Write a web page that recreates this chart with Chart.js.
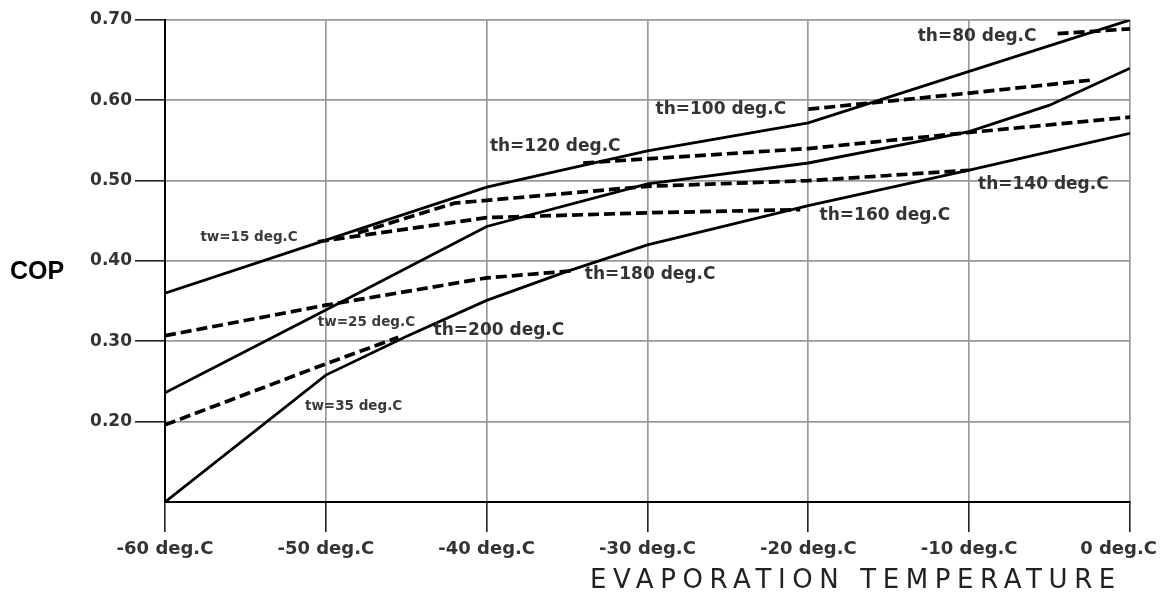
<!DOCTYPE html>
<html>
<head>
<meta charset="utf-8">
<script src="https://cdn.jsdelivr.net/npm/chart.js@4.4.0/dist/chart.umd.min.js"></script>
<style>
  html, body { margin: 0; padding: 0; background: #fff; }
</style>
</head>
<body>
<canvas id="myChart" width="1163" height="600"></canvas>
<script>
// evaporation temperature (deg.C) -> COP, solid curves (cooling water temp tw)
const tw15Temp = [-60, -50, -40, -30, -20, -10, 0];
const tw15Cop  = [0.360, 0.426, 0.492, 0.537, 0.572, 0.636, 0.700];
const tw25Temp = [-60, -50, -40, -30, -20, -10, -5, 0];
const tw25Cop  = [0.236, 0.339, 0.443, 0.496, 0.522, 0.561, 0.594, 0.640];
const tw35Temp = [-60, -50, -45, -40, -35, -30, -20, -10, 0];
const tw35Cop  = [0.100, 0.258, 0.306, 0.351, 0.387, 0.420, 0.469, 0.513, 0.559];

// dashed curves (heating temp th)
const th80Temp  = [-4.5, 0];
const th80Cop   = [0.683, 0.689];
const th100Temp = [-20, -10, -2.5];
const th100Cop  = [0.589, 0.609, 0.625];
const th120Temp = [-34, -20, -10, 0];
const th120Cop  = [0.522, 0.540, 0.560, 0.579];
const th140Temp = [-48, -42, -30, -20, -10];
const th140Cop  = [0.435, 0.472, 0.493, 0.500, 0.513];
const th160Temp = [-50.5, -40, -30, -20.5];
const th160Cop  = [0.424, 0.454, 0.460, 0.464];
const th180Temp = [-60, -50, -40, -34.5];
const th180Cop  = [0.307, 0.345, 0.379, 0.388];
const th200Temp = [-60, -50, -45.5];
const th200Cop  = [0.196, 0.272, 0.305];

// axis ticks
const xTicks = [-60, -50, -40, -30, -20, -10, 0];
const yTicks = [0.10, 0.20, 0.30, 0.40, 0.50, 0.60, 0.70];

// curve labels (anchored in data units)
const noteText = ['th=80 deg.C', 'th=100 deg.C', 'th=120 deg.C', 'th=140 deg.C', 'th=160 deg.C',
                  'th=180 deg.C', 'th=200 deg.C', 'tw=15 deg.C', 'tw=25 deg.C', 'tw=35 deg.C'];
const noteTemp = [-13.2, -29.5, -39.8, -9.45, -19.3, -33.9, -43.3, -57.8, -50.5, -51.3];
const noteCop  = [0.679, 0.588, 0.542, 0.495, 0.457, 0.383, 0.314, 0.429, 0.324, 0.219];

function pts(xs, ys) {
  return xs.map((x, i) => ({ x: x, y: ys[i] }));
}

function solid(label, xs, ys) {
  return { label, data: pts(xs, ys), borderColor: '#000', borderWidth: 2.8,
           pointRadius: 0, tension: 0, fill: false };
}
function dashed(label, xs, ys) {
  return { label, data: pts(xs, ys), borderColor: '#000', borderWidth: 3.7,
           borderDash: [11, 5], borderCapStyle: 'butt',
           pointRadius: 0, tension: 0, fill: false };
}

const tickFont = { family: 'DejaVu Sans', size: 17, weight: 'bold' };

// texts: curve labels, last x tick, axis titles
const textPlugin = {
  id: 'textos',
  afterDatasetsDraw(chart) {
    const c = chart.ctx;
    const sx = chart.scales.x, sy = chart.scales.y;
    c.save();
    c.textBaseline = 'middle';
    c.textAlign = 'left';
    noteText.forEach((t, i) => {
      const small = t.startsWith('tw');
      c.font = small ? 'bold 13.5px "DejaVu Sans"' : 'bold 17px "DejaVu Sans"';
      c.fillStyle = small ? '#3a3a3a' : '#333';
      c.fillText(t, sx.getPixelForValue(noteTemp[i]), sy.getPixelForValue(noteCop[i]));
    });
    // last x tick label kept inside the canvas
    c.font = 'bold 18px "DejaVu Sans"';
    c.fillStyle = '#333';
    c.textAlign = 'right';
    c.fillText(xTicks[xTicks.length - 1] + ' deg.C', 1157, 549);
    c.textAlign = 'left';
    // y title
    c.font = 'bold 25px "Liberation Sans"';
    c.fillStyle = '#000';
    c.fillText('COP', 10, 272);
    // x title, spread to its width
    const titulo = 'EVAPORATION TEMPERATURE';
    c.font = '26px "DejaVu Sans"';
    c.fillStyle = '#222';
    const w = c.measureText(titulo).width;
    c.letterSpacing = ((525 - w) / (titulo.length - 1)).toFixed(1) + 'px';
    c.fillText(titulo, 590, 581);
    c.restore();
  }
};

const ctx = document.getElementById('myChart').getContext('2d');
const myChart = new Chart(ctx, {
  type: 'line',
  data: {
    datasets: [
      solid('tw=15', tw15Temp, tw15Cop),
      solid('tw=25', tw25Temp, tw25Cop),
      solid('tw=35', tw35Temp, tw35Cop),
      dashed('th=80', th80Temp, th80Cop),
      dashed('th=100', th100Temp, th100Cop),
      dashed('th=120', th120Temp, th120Cop),
      dashed('th=140', th140Temp, th140Cop),
      dashed('th=160', th160Temp, th160Cop),
      dashed('th=180', th180Temp, th180Cop),
      dashed('th=200', th200Temp, th200Cop)
    ]
  },
  options: {
    responsive: false,
    animation: false,
    layout: { padding: { left: 0, right: 33, top: 20, bottom: 0 } },
    plugins: { legend: { display: false }, tooltip: { enabled: false } },
    scales: {
      x: {
        type: 'linear',
        min: xTicks[0],
        max: xTicks[xTicks.length - 1],
        afterBuildTicks: s => { s.ticks = xTicks.map(v => ({ value: v })); },
        afterFit: s => { s.height = 98; s.paddingLeft = 0; s.paddingRight = 0; },
        ticks: {
          callback: v => v === xTicks[xTicks.length - 1] ? '' : v + ' deg.C',
          font: { family: 'DejaVu Sans', size: 18, weight: 'bold' },
          color: '#333',
          padding: 7,
          maxRotation: 0,
          autoSkip: false
        },
        grid: { color: '#9a9a9a', lineWidth: 1.7, tickLength: 30, tickColor: '#000', tickWidth: 1.4 },
        border: { color: '#000', width: 2 }
      },
      y: {
        min: yTicks[0],
        max: yTicks[yTicks.length - 1],
        afterBuildTicks: s => { s.ticks = yTicks.map(v => ({ value: v })); },
        afterFit: s => { s.width = 165; s.paddingTop = 0; s.paddingBottom = 0; },
        ticks: {
          callback: v => v < 0.15 ? '' : v.toFixed(2),
          font: tickFont,
          color: '#333',
          padding: 3
        },
        grid: {
          color: '#9a9a9a', lineWidth: 1.7, tickLength: 30, tickWidth: 1.4,
          tickColor: c => (c.tick && c.tick.value < 0.15) ? 'rgba(0,0,0,0)' : '#000'
        },
        border: { color: '#000', width: 2 }
      }
    }
  },
  plugins: [textPlugin]
});
</script>
</body>
</html>
